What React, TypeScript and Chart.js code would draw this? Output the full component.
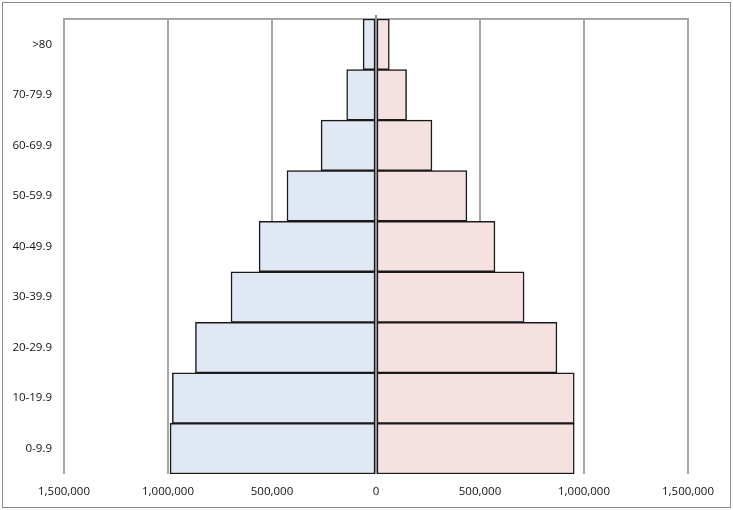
import React, { useEffect, useRef } from "react";
import { Chart, registerables } from "chart.js";

Chart.register(...registerables);

const categories = [">80", "70-79.9", "60-69.9", "50-59.9", "40-49.9", "30-39.9", "20-29.9", "10-19.9", "0-9.9"];
const maleValues = [-62000, -141000, -264000, -428000, -562000, -697000, -868000, -979000, -990000];
const femaleValues = [64000, 147000, 269000, 437000, 572000, 712000, 870000, 953000, 953000];
const xTickMin = -1500000;
const xTickMax = 1500000;
const xTickStep = 500000;

const overlayPlugin = {
  id: "overlayLines",
  beforeDatasetsDraw(chart: any) {
    const { ctx, chartArea } = chart;
    ctx.save();
    ctx.strokeStyle = "#a6a6a6";
    ctx.lineWidth = 2;
    ctx.beginPath();
    ctx.moveTo(chartArea.left - 1, chartArea.top);
    ctx.lineTo(chartArea.right + 1, chartArea.top);
    ctx.stroke();
    ctx.restore();
  },
  afterDatasetsDraw(chart: any) {
    const { ctx, chartArea, scales } = chart;
    const x0 = scales.x.getPixelForValue(0);
    ctx.save();
    ctx.strokeStyle = "#8c8c8c";
    ctx.lineWidth = 2;
    ctx.beginPath();
    ctx.moveTo(x0, chartArea.top - 4);
    ctx.lineTo(x0, chartArea.bottom);
    ctx.stroke();
    ctx.restore();
  },
};

export default function App() {
  const ref = useRef<HTMLCanvasElement | null>(null);
  useEffect(() => {
    if (!ref.current) return;
    const chart = new Chart(ref.current, {
      type: "bar",
      data: {
        labels: categories,
        datasets: [
          {
            label: "Male",
            data: maleValues,
            backgroundColor: "#dfe8f3",
            borderColor: "#1a1a1a",
            borderWidth: 1.5,
            borderSkipped: false,
            barPercentage: 1,
            categoryPercentage: 1,
          },
          {
            label: "Female",
            data: femaleValues,
            backgroundColor: "#f4e1e0",
            borderColor: "#1a1a1a",
            borderWidth: 1.5,
            borderSkipped: false,
            barPercentage: 1,
            categoryPercentage: 1,
          },
        ],
      },
      options: {
        indexAxis: "y",
        animation: false,
        responsive: false,
        maintainAspectRatio: false,
        layout: { padding: { top: 19, right: 45, left: 0, bottom: 0 } },
        plugins: { legend: { display: false }, tooltip: { enabled: false } },
        scales: {
          x: {
            stacked: true,
            min: xTickMin,
            max: xTickMax,
            border: { display: false },
            grid: { color: "#a6a6a6", lineWidth: 2, drawTicks: false },
            ticks: {
              stepSize: xTickStep,
              padding: 11,
              color: "#111",
              font: { family: "Open Sans", size: 11.5 },
              maxRotation: 0,
              autoSkip: false,
              callback: (v: any) => Math.abs(Number(v)).toLocaleString("en-US"),
            },
            afterFit: (s: any) => {
              s.height = 36;
            },
          },
          y: {
            stacked: true,
            border: { display: false },
            grid: { display: false, drawTicks: false },
            ticks: {
              padding: 12,
              color: "#111",
              font: { family: "Open Sans", size: 11.5 },
            },
            afterFit: (s: any) => {
              s.width = 64;
            },
          },
        },
      },
      plugins: [overlayPlugin],
    });
    return () => chart.destroy();
  }, []);
  return (
    <div style={{ position: "fixed", left: 0, top: 0, width: 733, height: 510, background: "#fff" }}>
      <canvas ref={ref} width={733} height={510} style={{ position: "absolute", left: 0, top: 0 }} />
      <div
        style={{
          position: "absolute",
          left: 2,
          top: 2,
          width: 727,
          height: 504,
          border: "1px solid #8c8c8c",
          pointerEvents: "none",
        }}
      />
    </div>
  );
}
